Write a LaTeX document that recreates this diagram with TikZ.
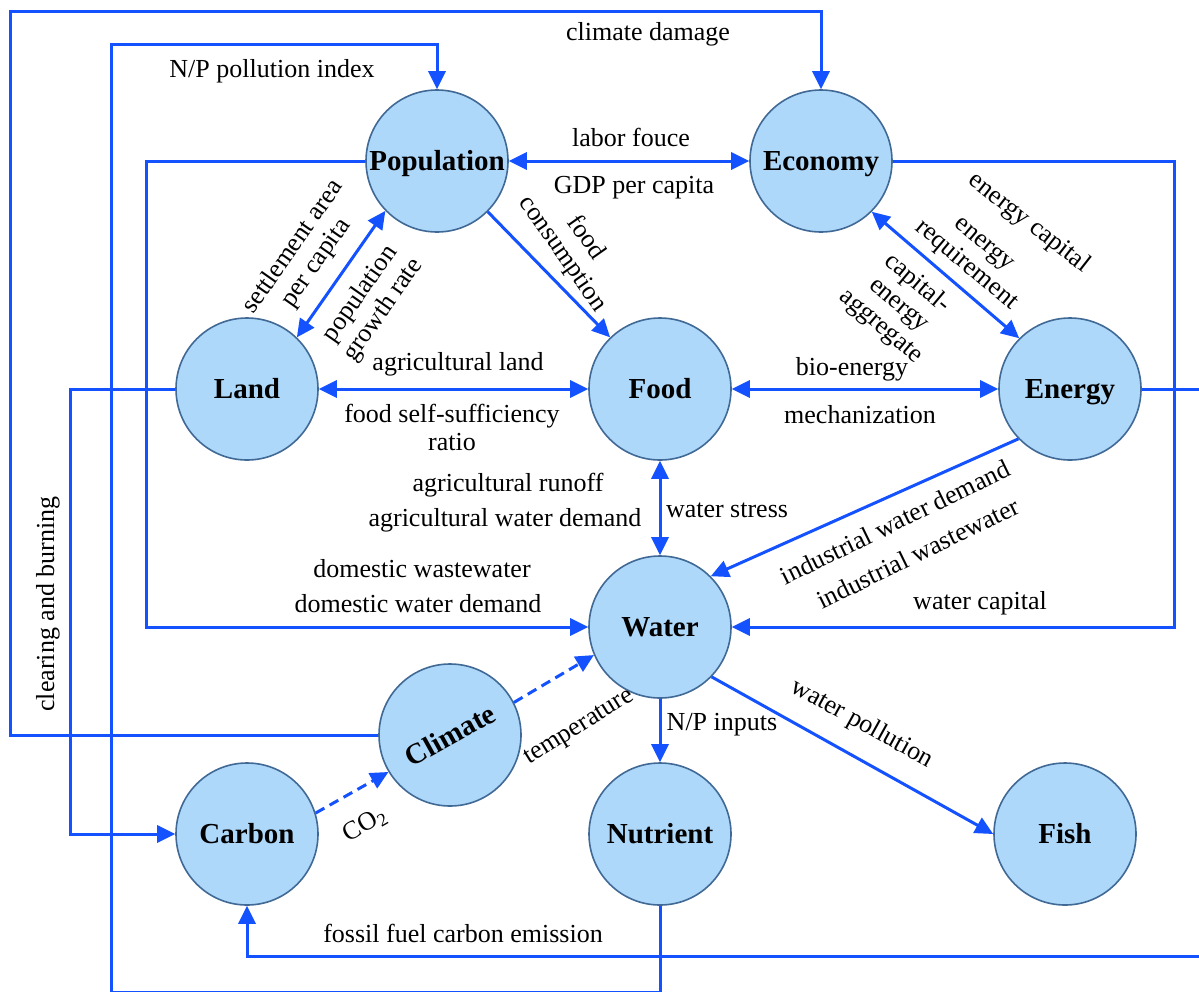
\documentclass[tikz,border=0pt]{standalone}
\usepackage{fontspec}
\setmainfont{Liberation Serif}
\usetikzlibrary{arrows.meta}
\definecolor{flowblue}{RGB}{20,82,255}
\definecolor{nodefill}{RGB}{174,216,250}
\definecolor{nodeline}{RGB}{65,105,150}

\begin{document}
\begin{tikzpicture}[x=0.5pt,y=-0.5pt,
		sector/.style={circle, draw=nodeline, line width=0.8pt, fill=nodefill, minimum size=71pt, inner sep=0pt, text height=9.6pt, text depth=0pt, font=\fontsize{14.5}{16}\selectfont\bfseries},
		link/.style={draw=flowblue, line width=1.5pt},
		flow/.style={link, -{Triangle[length=9pt,width=8.5pt]}},
		both/.style={link, {Triangle[length=9pt,width=8.5pt]}-{Triangle[length=9pt,width=8.5pt]}},
		soft/.style={flow, dash pattern=on 5pt off 3pt},
		lbl/.style={font=\fontsize{13}{14}\selectfont, inner sep=1pt, align=center}]
		
		% Fix the page size
		\useasboundingbox (0,0) rectangle (1199,991);
		\clip (0,0) rectangle (1199,991);
		
		% Draw the sectors
		\node[sector] (pop) at (437,161) {Population};
		\node[sector] (econ) at (821,161) {Economy};
		\node[sector] (land) at (247,389) {Land};
		\node[sector] (food) at (660,389) {Food};
		\node[sector] (energy) at (1070,389) {Energy};
		\node[sector] (water) at (660,627) {Water};
		\node[sector, text height=, text depth=] (climate) at (450,735) {\rotatebox{29}{Climate}};
		\node[sector] (carbon) at (247,834) {Carbon};
		\node[sector] (nutrient) at (660,834) {Nutrient};
		\node[sector] (fish) at (1065,834) {Fish};
		
		% Draw the direct links
		\draw[both] (pop.east) -- (econ.west);
		\draw[both] (land.46) -- (pop.224);
		\draw[flow] (pop.-45) -- (food.134);
		\draw[both] (land.east) -- (food.west);
		\draw[both] (food.east) -- (energy.west);
		\draw[both] (econ.-45) -- (energy.135);
		\draw[both] (food.south) -- (water.north);
		\draw[flow] (energy.224) -- (water.45);
		\draw[flow] (water.south) -- (nutrient.north);
		\draw[flow] (water.-44) -- (fish.west);
		\draw[soft] (climate.27) -- (water.203);
		\draw[soft] (carbon.17) -- (climate.211);
		
		% Draw the routed links
		\draw[flow] (climate.west) -| (10,11) -| (econ.north);
		\draw[flow] (nutrient.south) -- (660,992) -| (111,44) -| (pop.north);
		\draw[flow] (pop.west) -| (146,627) -- (water.west);
		\draw[flow] (land.west) -| (70,834) -- (carbon.west);
		\draw[flow] (econ.east) -| (1174,627) -- (water.east);
		\draw[flow] (energy.east) -- (1215,389) |- (247,956) -- (carbon.south);
		
		% Link labels
		\node[lbl] (lclim) at (648,34) {climate damage};
		\node[lbl] (lnp) at (272,71) {N/P pollution index};
		\node[lbl] (llabor) at (631,137) {labor fouce};
		\node[lbl] (lgdp) at (634,188) {GDP per capita};
		\node[lbl, rotate=55] (lsettle) at (305,255) {settlement area\\per capita};
		\node[lbl, rotate=55] (lgrowth) at (372,302) {population\\growth rate};
		\node[lbl, rotate=-55] (lcons) at (574,246) {food\\consumption};
		\node[lbl, rotate=-38] (lecap) at (1029,223) {energy capital};
		\node[lbl, rotate=-40] (lereq) at (974,256) {energy\\requirement};
		\node[lbl, rotate=-40] (lagg) at (899,305) {capital-\\energy\\aggregate};
		\node[lbl] (lagland) at (458,364) {agricultural land};
		\node[lbl] (lself) at (452,427) {food self-sufficiency\\ratio};
		\node[lbl] (lbio) at (852,369) {bio-energy};
		\node[lbl] (lmech) at (860,415) {mechanization};
		\node[lbl] (lrunoff) at (508,485) {agricultural runoff};
		\node[lbl] (lagwater) at (505,520) {agricultural water demand};
		\node[lbl] (lstress) at (727,510) {water stress};
		\node[lbl, rotate=26] (linddem) at (895,522) {industrial water demand};
		\node[lbl, rotate=26] (lindwaste) at (918,553) {industrial wastewater};
		\node[lbl] (ldomwaste) at (422,569) {domestic wastewater};
		\node[lbl] (ldomdem) at (418,604) {domestic water demand};
		\node[lbl] (lwcap) at (980,603) {water capital};
		\node[lbl, rotate=90] (lclear) at (48,604) {clearing and burning};
		\node[lbl, rotate=32] (ltemp) at (580,728) {temperature};
		\node[lbl] (lnpin) at (722,725) {N/P inputs};
		\node[lbl, rotate=-29] (lpoll) at (862,724) {water pollution};
		\node[lbl, rotate=30] (lco) at (365,825) {CO\textsubscript{2}};
		\node[lbl] (lfossil) at (463,933) {fossil fuel carbon emission};
	\end{tikzpicture}
\end{document}
